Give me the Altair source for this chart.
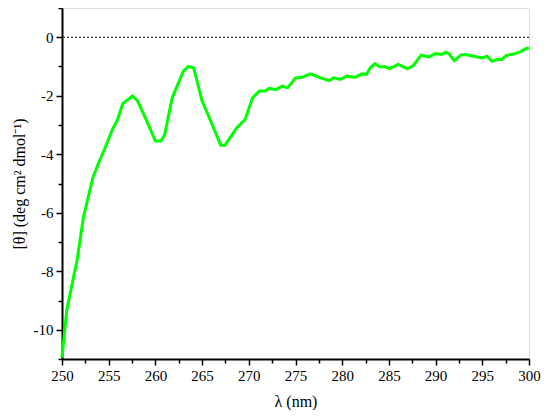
import altair as alt
import pandas as pd

wavelength = [250.0, 250.3, 250.5, 251.0, 251.6, 252.3, 253.3, 254.0, 254.55, 255.4, 255.96, 256.5,
              257.55, 258.1, 259.0, 260.0, 260.6, 261.0, 261.8, 263.0, 263.55, 264.1, 265.0, 265.7,
              267.0, 267.45, 268.7, 269.6, 270.4, 271.15, 271.7, 272.2, 272.9, 273.6, 274.15, 275.0,
              275.7, 276.6, 277.7, 278.6, 279.1, 279.8, 280.5, 281.4, 282.1, 282.6, 283.0, 283.5,
              284.0, 284.6, 285.1, 286.0, 287.0, 287.6, 288.45, 289.3, 290.0, 290.6, 291.1, 291.45,
              292.0, 292.7, 293.2, 294.1, 295.0, 295.5, 296.05, 296.6, 297.1, 297.6, 298.5, 299.0,
              299.6, 300.0]
theta = [-10.95, -10.0, -9.35, -8.56, -7.65, -6.15, -4.8, -4.23, -3.83, -3.15, -2.81, -2.27,
         -2.01, -2.18, -2.81, -3.55, -3.55, -3.32, -2.07, -1.16, -1.0, -1.05, -2.18, -2.7,
         -3.69, -3.69, -3.1, -2.81, -2.07, -1.84, -1.84, -1.75, -1.79, -1.67, -1.73, -1.39,
         -1.37, -1.25, -1.39, -1.48, -1.39, -1.44, -1.33, -1.37, -1.25, -1.27, -1.05, -0.9,
         -1.01, -1.01, -1.07, -0.93, -1.08, -0.97, -0.61, -0.67, -0.56, -0.59, -0.51, -0.57,
         -0.8, -0.61, -0.59, -0.65, -0.71, -0.65, -0.82, -0.76, -0.76, -0.62, -0.56, -0.51,
         -0.4, -0.36]

x_major = [250, 255, 260, 265, 270, 275, 280, 285, 290, 295, 300]
x_minor = [252.5, 257.5, 262.5, 267.5, 272.5, 277.5, 282.5, 287.5, 292.5, 297.5]
y_major = [-10, -8, -6, -4, -2, 0]
y_minor = [-11, -9, -7, -5, -3, -1, 1]
zero_line = [0]

df = pd.DataFrame({"wl": wavelength, "theta": theta})
zdf = pd.DataFrame({"y": zero_line})

FONT = "Liberation Serif"
xscale = alt.Scale(domain=[250, 300], nice=False, zero=False)
yscale = alt.Scale(domain=[-11, 1], nice=False, zero=False)

x_axis = alt.Axis(values=x_major, title="λ (nm)", orient="bottom", grid=False,
                  tickSize=6, tickWidth=1.5, tickColor="black", domainColor="black",
                  domainWidth=2, labelFont=FONT, labelFontSize=15, labelColor="black",
                  labelPadding=3, titleFont=FONT, titleFontSize=16, titleFontWeight="normal",
                  titleColor="black", titlePadding=10, labelFlush=False)
y_axis = alt.Axis(values=y_major, title="[θ] (deg cm² dmol⁻¹)", orient="left", grid=False,
                  tickSize=6, tickWidth=1.5, tickColor="black", domainColor="black",
                  domainWidth=2, labelFont=FONT, labelFontSize=15, labelColor="black",
                  labelPadding=3, labelExpr="'' + datum.value",
                  titleFont=FONT, titleFontSize=16, titleFontWeight="normal",
                  titleColor="black", titlePadding=6, labelFlush=False)

x_minor_axis = alt.Axis(values=x_minor, title=None, orient="bottom", grid=False, labels=False,
                        tickSize=4, tickWidth=1.5, tickColor="black", domain=False)
y_minor_axis = alt.Axis(values=y_minor, title=None, orient="left", grid=False, labels=False,
                        tickSize=4, tickWidth=1.5, tickColor="black", domain=False)

minor = alt.Chart(df).mark_line(opacity=0).encode(
    x=alt.X("wl:Q", scale=xscale, axis=x_minor_axis),
    y=alt.Y("theta:Q", scale=yscale, axis=y_minor_axis),
)

line = alt.Chart(df).mark_line(color="#00FF00", strokeWidth=3).encode(
    x=alt.X("wl:Q", scale=xscale, axis=x_axis),
    y=alt.Y("theta:Q", scale=yscale, axis=y_axis),
)

zero = alt.Chart(zdf).mark_rule(color="black", strokeDash=[2, 2], strokeWidth=1).encode(
    y=alt.Y("y:Q", scale=yscale, axis=None),
)

chart = alt.layer(minor, line, zero).resolve_axis(x="independent", y="independent").properties(
    width=467, height=351,
    autosize=alt.AutoSizeParams(type="none"),
    padding={"left": 54, "top": 0, "right": 13, "bottom": 51},
).configure_view(stroke=None).configure(background="white")

chart.save("out.html", embed_options={"renderer": "svg", "actions": False})
